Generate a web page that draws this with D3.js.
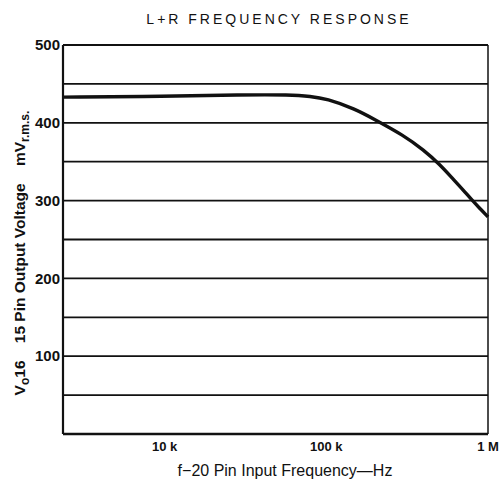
<!DOCTYPE html>
<html>
<head>
<meta charset="utf-8">
<script src="https://cdn.jsdelivr.net/npm/d3@7"></script>
<style>
  body { margin: 0; background: #fff; }
  text { font-family: "Liberation Sans", Arial, sans-serif; fill: #111; white-space: pre; }
</style>
</head>
<body>
<div id="chart"></div>
<script>
// frequency response
var freq  = [2350, 10000, 30000, 60000, 80000, 100000, 150000, 200000, 300000, 400000, 500000, 600000, 700000, 800000, 900000, 1000000];
var volts = [433, 434, 436, 436, 434, 431, 418, 404, 384, 365, 347, 329, 314, 300, 289, 279];

var yTicks = [100, 200, 300, 400, 500];
var gridVals = [50, 100, 150, 200, 250, 300, 350, 400, 450];
var xTicks = [10000, 100000, 1000000];
var xTickLabels = ["10 k", "100 k", "1 M"];

var data = freq.map(function(f, i) { return { f: f, v: volts[i] }; });

var pl = 63, pr = 488, pt = 45, pb = 434;

var x = d3.scaleLog().domain([2350, 1000000]).range([pl, pr]);
var y = d3.scaleLinear().domain([0, 500]).range([pb, pt]);

var svg = d3.select("#chart").append("svg")
  .attr("width", 502)
  .attr("height", 487);

// title
svg.append("text")
  .attr("x", 279).attr("y", 24)
  .attr("text-anchor", "middle")
  .style("font-size", "14px")
  .style("letter-spacing", "3px")
  .text("L+R FREQUENCY RESPONSE");

// horizontal grid
svg.append("g").selectAll("line")
  .data(gridVals)
  .enter().append("line")
    .attr("x1", pl).attr("x2", pr)
    .attr("y1", function(d) { return y(d); })
    .attr("y2", function(d) { return y(d); })
    .attr("stroke", "#111")
    .attr("stroke-width", 1.8);

// frame
svg.append("line").attr("x1", pl).attr("x2", pr).attr("y1", pt).attr("y2", pt)
  .attr("stroke", "#111").attr("stroke-width", 1.8);
svg.append("line").attr("x1", pr).attr("x2", pr).attr("y1", pt).attr("y2", pb)
  .attr("stroke", "#111").attr("stroke-width", 1.5);
svg.append("line").attr("x1", pl).attr("x2", pl).attr("y1", pt).attr("y2", pb)
  .attr("stroke", "#111").attr("stroke-width", 2.2);
svg.append("line").attr("x1", pl).attr("x2", pr).attr("y1", pb).attr("y2", pb)
  .attr("stroke", "#111").attr("stroke-width", 2.5);

// y labels
svg.append("g").selectAll("text")
  .data(yTicks)
  .enter().append("text")
    .attr("x", pl - 3)
    .attr("y", function(d) { return y(d); })
    .attr("dy", "0.35em")
    .attr("text-anchor", "end")
    .style("font-size", "15px")
    .style("font-weight", "bold")
    .text(function(d) { return d; });

// x labels
svg.append("g").selectAll("text")
  .data(xTicks)
  .enter().append("text")
    .attr("x", function(d) { return x(d); })
    .attr("y", 451)
    .attr("text-anchor", "middle")
    .style("font-size", "13px")
    .style("font-weight", "bold")
    .text(function(d, i) { return xTickLabels[i]; });

// response curve
var line = d3.line()
  .x(function(d) { return x(d.f); })
  .y(function(d) { return y(d.v); })
  .curve(d3.curveBasis);

svg.append("path")
  .datum(data)
  .attr("d", line)
  .attr("fill", "none")
  .attr("stroke", "#111")
  .attr("stroke-width", 3.4);

// axis titles
svg.append("text")
  .attr("x", 285).attr("y", 476)
  .attr("text-anchor", "middle")
  .style("font-size", "16px")
  .text("f\u221220 Pin Input Frequency\u2014Hz");

var yt = svg.append("text")
  .attr("transform", "translate(25,253) rotate(-90)")
  .attr("text-anchor", "middle")
  .style("font-size", "15.5px")
  .style("font-weight", "bold");
yt.append("tspan").text("V");
yt.append("tspan").attr("dy", 4).style("font-size", "12px").text("o");
yt.append("tspan").attr("dy", -4).text("16    15 Pin Output Voltage    mV");
yt.append("tspan").attr("dy", 4).style("font-size", "12px").text("r.m.s.");
</script>
</body>
</html>
